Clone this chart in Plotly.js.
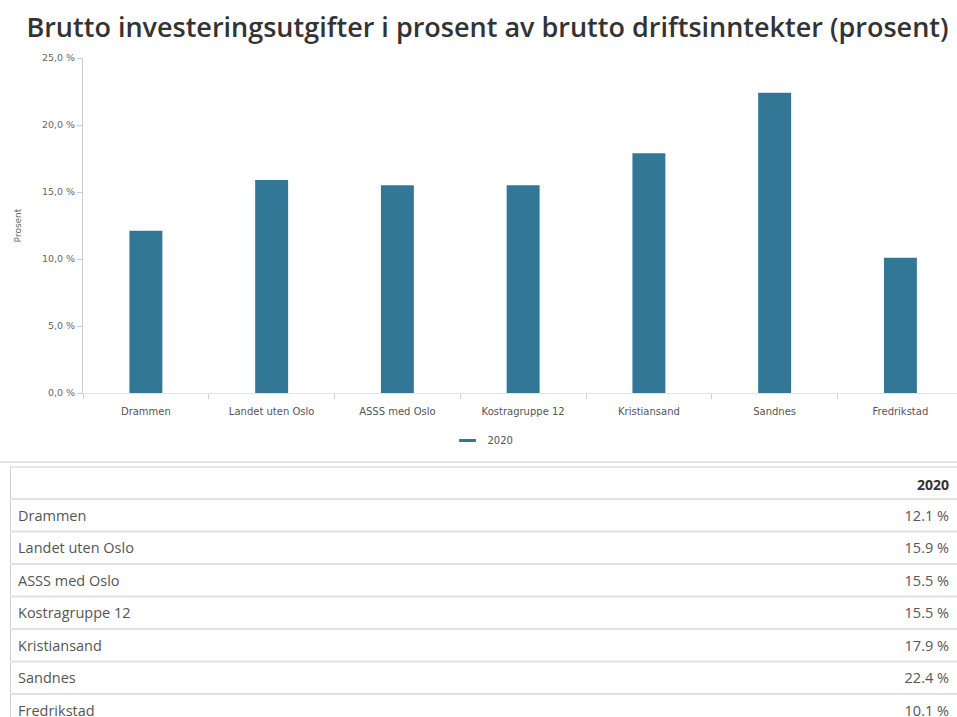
<!DOCTYPE html>
<html>
<head>
<meta charset="utf-8">
<script src="https://cdn.plot.ly/plotly-3.0.1.min.js"></script>
<style>
html,body{margin:0;padding:0;overflow:hidden;background:#fff;}
#chart{width:957px;height:727px;}
</style>
</head>
<body>
<div id="chart"></div>
<script>
// ---- data ----
const categories = ['Drammen','Landet uten Oslo','ASSS med Oslo','Kostragruppe 12','Kristiansand','Sandnes','Fredrikstad'];
const values2020 = [12.1, 15.9, 15.5, 15.5, 17.9, 22.4, 10.1];
const seriesName = '2020';
const yTickVals = [0, 5, 10, 15, 20, 25];
const yTickText = ['0,0 %', '5,0 %', '10,0 %', '15,0 %', '20,0 %', '25,0 %'];
const tableValues = ['12.1 %', '15.9 %', '15.5 %', '15.5 %', '17.9 %', '22.4 %', '10.1 %'];
const titleText = 'Brutto investeringsutgifter i prosent av brutto driftsinntekter (prosent)';
const yTitle = 'Prosent';

// ---- layout helpers (pixel -> paper) ----
const W = 957, H = 727;
const fx = x => x / W;
const fy = y => 1 - y / H;
const barColor = '#327896';
const font = 'Open Sans, Noto Sans, sans-serif';
const axisFont = 'DejaVu Sans, Verdana, sans-serif';

const traces = [
  {
    type: 'bar',
    x: categories,
    y: values2020,
    name: seriesName,
    marker: {color: barColor},
    showlegend: false,
    xaxis: 'x', yaxis: 'y'
  },
  {
    type: 'scatter',
    mode: 'markers',
    x: [categories[0]],
    y: [null],
    name: seriesName,
    marker: {symbol: 'line-ew', size: 12, color: barColor, line: {color: barColor, width: 3}},
    showlegend: true,
    xaxis: 'x', yaxis: 'y'
  },
  {
    type: 'table',
    domain: {x: [fx(10), 1], y: [0, fy(467)]},
    columnwidth: [0.7, 0.3],
    header: {
      values: ['', '<b>' + seriesName + '</b>'],
      align: ['left', 'right'],
      height: 32,
      fill: {color: 'white'},
      line: {color: 'rgba(0,0,0,0)', width: 0},
      font: {family: font, size: 14, color: '#333'}
    },
    cells: {
      values: [categories, tableValues],
      align: ['left', 'right'],
      height: 32.5,
      fill: {color: 'white'},
      line: {color: 'rgba(0,0,0,0)', width: 0},
      font: {family: font, size: 14.5, color: '#555'}
    }
  }
];

const shapes = [
  {type: 'line', xref: 'paper', yref: 'paper', x0: 0, x1: 1, y0: fy(462), y1: fy(462), line: {color: '#c8c8c8', width: 1}},
  {type: 'line', xref: 'paper', yref: 'paper', x0: fx(10), x1: 1, y0: fy(467), y1: fy(467), line: {color: '#d0d0d0', width: 1}},
  {type: 'line', xref: 'paper', yref: 'paper', x0: fx(10.5), x1: fx(10.5), y0: fy(467), y1: 0, line: {color: '#d0d0d0', width: 1}}
];
for (let k = 0; k < categories.length; k++) {
  const yy = 499 + 32.5 * k;
  shapes.push({type: 'line', xref: 'paper', yref: 'paper', x0: fx(10), x1: 1, y0: fy(yy), y1: fy(yy), line: {color: '#e2e2e2', width: 2}});
}

const layout = {
  width: W, height: H,
  margin: {l: 0, r: 0, t: 0, b: 0},
  paper_bgcolor: 'white',
  plot_bgcolor: 'white',
  separators: ', ',
  font: {family: font, color: '#666'},
  title: {
    text: titleText,
    font: {family: font, size: 27, color: '#333', weight: 600},
    x: fx(487.5), xanchor: 'center', xref: 'container',
    y: 1 - 27.5 / H, yanchor: 'middle', yref: 'container'
  },
  bargap: 0.738,
  xaxis: {
    domain: [fx(83), 1],
    range: [-0.5, 6.45],
    type: 'category',
    showline: true, linecolor: '#e3e3e3', linewidth: 1,
    ticks: 'outside', tickson: 'boundaries', ticklen: 5, tickcolor: '#cfcfcf',
    ticklabelstandoff: 9,
    showgrid: false, zeroline: false,
    tickfont: {family: axisFont, size: 10, color: '#555'},
    automargin: false,
    fixedrange: true
  },
  yaxis: {
    domain: [fy(393), fy(58)],
    range: [0, 25],
    tickmode: 'array',
    tickvals: yTickVals,
    ticktext: yTickText,
    showline: true, linecolor: '#cccccc', linewidth: 1,
    ticks: 'outside', ticklen: 5, tickcolor: '#cccccc',
    showgrid: false, zeroline: false,
    tickfont: {family: axisFont, size: 9.5, color: '#666'},
    title: {text: yTitle, font: {family: axisFont, size: 9, color: '#666'}, standoff: 18},
    automargin: false,
    fixedrange: true
  },
  legend: {
    orientation: 'h',
    x: fx(483), xanchor: 'center',
    y: fy(426), yanchor: 'top',
    font: {family: axisFont, size: 10, color: '#555'},
    bgcolor: 'rgba(0,0,0,0)'
  },
  shapes: shapes
};

Plotly.newPlot('chart', traces, layout, {displayModeBar: false, staticPlot: true});
</script>
</body>
</html>
